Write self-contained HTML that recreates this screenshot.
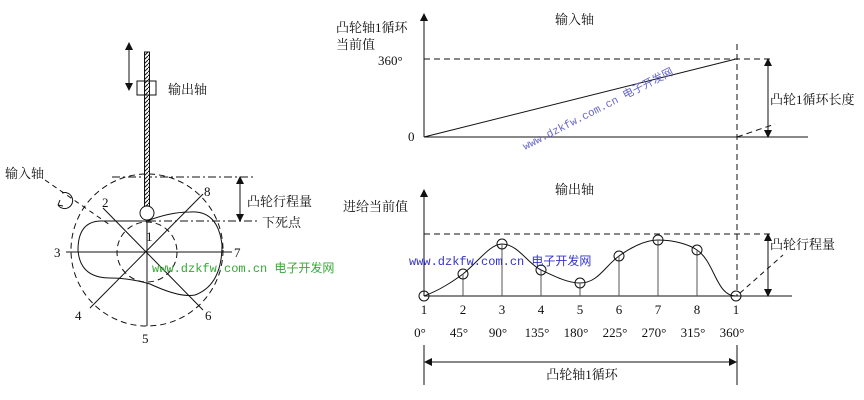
<!DOCTYPE html>
<html><head><meta charset="utf-8"><style>
body{margin:0;background:#fff}
svg{display:block}
text{font-family:"Liberation Serif","Noto Serif CJK SC","Noto Sans CJK SC",serif;font-size:13px;fill:#111}
.m{font-family:"Liberation Mono","Noto Sans CJK SC",monospace}
</style></head><body>
<svg width="864" height="400" viewBox="0 0 864 400" xmlns="http://www.w3.org/2000/svg">
<defs>
<marker id="a" markerWidth="8" markerHeight="8" refX="7" refY="4" orient="auto" markerUnits="userSpaceOnUse"><path d="M0,0 L8,4 L0,8z" fill="#111"/></marker>
<pattern id="h" width="4" height="4" patternUnits="userSpaceOnUse"><rect width="4" height="4" fill="#fff"/><path d="M0,4 L4,0" stroke="#111" stroke-width="1"/></pattern>
</defs>
<g stroke="#111" fill="none" stroke-width="1">
<circle cx="147" cy="250" r="76" stroke-dasharray="6,4"/>
<circle cx="147" cy="252" r="30" stroke-dasharray="6,4"/>
<path d="M100,221 L147,221 Q170,212 190,212 Q218,210 222,245 Q222,285 195,295 Q180,298 150,284 Q130,278 110,278 Q80,278 78,250 Q78,222 100,221Z"/>
<line x1="66" y1="252" x2="232" y2="252"/>
<line x1="147" y1="222" x2="147" y2="326"/>
<line x1="103" y1="208" x2="203" y2="310"/>
<line x1="90" y1="308" x2="203" y2="194"/>
<path d="M112,177 L255,177 M100,221 L258,221" stroke-dasharray="8,3,2,3"/>
<path d="M45,180 L110,225" stroke-dasharray="5,4"/>
<path d="M62,193 A8,8 0 1 1 58,205" />
<path d="M58,205 l2,-5 M58,205 l5,1"/>
<rect x="144.5" y="52" width="5" height="154" fill="url(#h)"/>
<circle cx="147" cy="213" r="7" fill="#fff"/>
<rect x="137" y="81" width="19" height="14" fill="none"/>
<line x1="129" y1="50" x2="129" y2="84"/>
<line x1="129" y1="50" x2="129" y2="43" marker-end="url(#a)"/>
<line x1="129" y1="84" x2="129" y2="90" marker-end="url(#a)"/>
<line x1="240" y1="184" x2="240" y2="214"/>
<line x1="240" y1="184" x2="240" y2="177" marker-end="url(#a)"/>
<line x1="240" y1="214" x2="240" y2="221" marker-end="url(#a)"/>
<line x1="424" y1="137" x2="424" y2="14" marker-end="url(#a)"/>
<line x1="424" y1="137" x2="808" y2="137"/>
<line x1="424" y1="59" x2="772" y2="59" stroke-dasharray="6,4"/>
<line x1="424" y1="137" x2="736" y2="59"/>
<line x1="737" y1="44" x2="737" y2="296" stroke-dasharray="6,4"/>
<line x1="737" y1="137" x2="775" y2="124" stroke-dasharray="6,4"/>
<line x1="768" y1="66" x2="768" y2="130"/>
<line x1="768" y1="66" x2="768" y2="59" marker-end="url(#a)"/>
<line x1="768" y1="130" x2="768" y2="137" marker-end="url(#a)"/>
<line x1="424" y1="296" x2="424" y2="190" marker-end="url(#a)"/>
<line x1="424" y1="296" x2="792" y2="296"/>
<line x1="424" y1="234" x2="772" y2="234" stroke-dasharray="6,4"/>
<line x1="768" y1="241" x2="768" y2="289"/>
<line x1="768" y1="241" x2="768" y2="234" marker-end="url(#a)"/>
<line x1="768" y1="289" x2="768" y2="296" marker-end="url(#a)"/>
<line x1="740" y1="293" x2="783" y2="255" stroke-dasharray="5,4"/>
<path d="M424,296 C440,290 452,282 463,274 C478,262 490,244 502,244 C518,244 528,264 541,270 C556,277 568,283 580,283 C598,283 605,266 619,256 C630,248 645,240 658,240 C675,240 690,245 697,250 C715,262 716,296 736,296"/>
<g stroke="#555">
<line x1="463" y1="274" x2="463" y2="296"/><line x1="502" y1="244" x2="502" y2="296"/><line x1="541" y1="270" x2="541" y2="296"/><line x1="580" y1="283" x2="580" y2="296"/><line x1="619" y1="256" x2="619" y2="296"/><line x1="658" y1="240" x2="658" y2="296"/><line x1="697" y1="250" x2="697" y2="296"/>
</g>
<g fill="none">
<circle cx="424" cy="296" r="5"/><circle cx="463" cy="274" r="5"/><circle cx="502" cy="244" r="5"/><circle cx="541" cy="270" r="5"/><circle cx="580" cy="283" r="5"/><circle cx="619" cy="256" r="5"/><circle cx="658" cy="240" r="5"/><circle cx="697" cy="250" r="5"/><circle cx="736" cy="296" r="5"/>
</g>
<line x1="424" y1="345" x2="424" y2="385"/><line x1="737" y1="345" x2="737" y2="385"/>
<line x1="432" y1="362" x2="729" y2="362"/>
<line x1="432" y1="362" x2="425" y2="362" marker-end="url(#a)"/>
<line x1="729" y1="362" x2="736" y2="362" marker-end="url(#a)"/>
</g>
<text x="168" y="94">输出轴</text>
<text x="5" y="178">输入轴</text>
<text x="247" y="206">凸轮行程量</text>
<text x="262" y="227">下死点</text>
<text x="102" y="207">2</text><text x="204" y="196">8</text><text x="146" y="241">1</text>
<text x="54" y="257">3</text><text x="234" y="257">7</text>
<text x="75" y="320">4</text><text x="205" y="320">6</text><text x="142" y="343">5</text>
<text x="152" y="272" class="m" style="fill:#3a3;font-size:12px">www.dzkfw.com.cn 电子开发网</text>
<text x="336" y="32">凸轮轴1循环</text>
<text x="336" y="49">当前值</text>
<text x="378" y="65">360°</text>
<text x="408" y="141">0</text>
<text x="555" y="24">输入轴</text>
<text x="770" y="104">凸轮1循环长度</text>
<text x="555" y="194">输出轴</text>
<text x="343" y="211">进给当前值</text>
<text x="770" y="249">凸轮行程量</text>
<text x="409" y="265" class="m" style="fill:#33c;font-size:12px">www.dzkfw.com.cn 电子开发网</text>
<text x="525" y="150" transform="rotate(-27 525 150)" class="m" style="fill:#66c;font-size:11px">www.dzkfw.com.cn 电子开发网</text>
<g text-anchor="middle">
<text x="424" y="314">1</text><text x="463" y="314">2</text><text x="502" y="314">3</text><text x="541" y="314">4</text><text x="580" y="314">5</text><text x="619" y="314">6</text><text x="658" y="314">7</text><text x="697" y="314">8</text><text x="736" y="314">1</text>
<text x="420" y="337">0°</text><text x="459" y="337">45°</text><text x="498" y="337">90°</text><text x="537" y="337">135°</text><text x="576" y="337">180°</text><text x="615" y="337">225°</text><text x="654" y="337">270°</text><text x="693" y="337">315°</text><text x="732" y="337">360°</text>
<text x="582" y="379">凸轮轴1循环</text>
</g>
</svg>
</body></html>
